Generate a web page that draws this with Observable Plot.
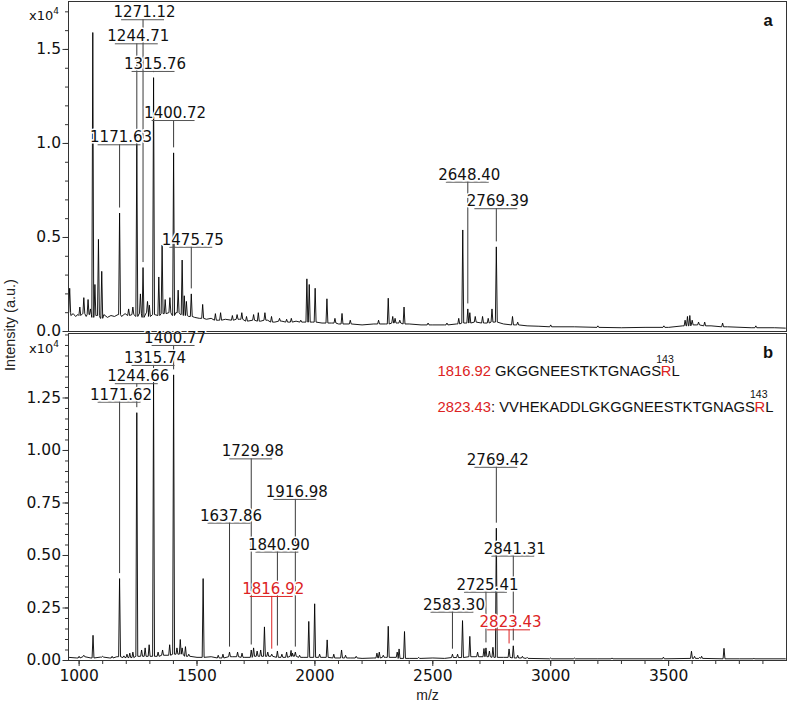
<!DOCTYPE html>
<html><head><meta charset="utf-8">
<script src="https://cdn.jsdelivr.net/npm/d3@7"></script>
<script src="https://cdn.jsdelivr.net/npm/@observablehq/plot@0.6"></script>
<style>
body{margin:0;background:#fff}
#chart{position:relative;width:789px;height:707px;background:#fff}
#chart svg{display:block}
</style>
</head><body><div id="chart"></div>
<script>
// ---------- data ----------
const xDomain = [955, 4000];
const xTicks = [1000, 1500, 2000, 2500, 3000, 3500];
const xMinor = [1000,1100,1200,1300,1400,1500,1600,1700,1800,1900,2000,2100,2200,2300,2400,2500,2600,2700,2800,2900,3000,3100,3200,3300,3400,3500,3600,3700,3800,3900];
const yTicksA = [0, 0.5, 1.0, 1.5];
const yMinorA = [0,0.1,0.2,0.3,0.4,0.5,0.6,0.7,0.8,0.9,1.0,1.1,1.2,1.3,1.4,1.5,1.6,1.7];
const yTicksB = [0, 0.25, 0.5, 0.75, 1.0, 1.25];
const yMinorB = [0,0.05,0.1,0.15,0.2,0.25,0.3,0.35,0.4,0.45,0.5,0.55,0.6,0.65,0.7,0.75,0.8,0.85,0.9,0.95,1.0,1.05,1.1,1.15,1.2,1.25,1.3,1.35,1.4,1.45,1.5,1.55];

// panel a: baseline (m/z, intensity x1e4)
const baseA = [[955,0.10],[965,0.085],[975,0.095],[985,0.08],[995,0.09],[1005,0.085],[1015,0.095],[1030,0.08],[1045,0.09],[1055,0.075],[1075,0.085],[1090,0.07],[1105,0.09],[1120,0.075],[1135,0.085],[1150,0.08],[1165,0.09],[1180,0.08],[1195,0.095],[1210,0.085],[1225,0.09],[1240,0.08],[1255,0.095],[1270,0.075],[1285,0.1],[1300,0.08],[1320,0.09],[1335,0.085],[1360,0.095],[1380,0.1],[1395,0.085],[1410,0.1],[1430,0.09],[1450,0.085],[1465,0.08],[1490,0.075],[1510,0.07],[1540,0.065],[1560,0.07],[1590,0.06],[1620,0.065],[1650,0.06],[1680,0.065],[1710,0.055],[1740,0.06],[1770,0.055],[1800,0.06],[1830,0.05],[1860,0.055],[1890,0.05],[1920,0.055],[1950,0.05],[1990,0.05],[2030,0.045],[2070,0.045],[2100,0.04],[2150,0.04],[2200,0.035],[2250,0.04],[2300,0.04],[2350,0.045],[2400,0.04],[2450,0.035],[2500,0.035],[2550,0.035],[2600,0.04],[2640,0.045],[2680,0.05],[2720,0.045],[2760,0.05],[2800,0.04],[2850,0.035],[2900,0.03],[2950,0.028],[3000,0.025],[3100,0.025],[3200,0.022],[3300,0.02],[3400,0.022],[3500,0.022],[3560,0.03],[3620,0.035],[3680,0.03],[3750,0.025],[3850,0.02],[3950,0.02],[3995,0.018]];
// panel a: peaks (m/z, height x1e4)
const peaksA = [[960,0.23],[1003,0.13],[1020,0.18],[1038,0.17],[1048,0.12],[1058,1.59],[1067,0.25],[1082,0.49],[1096,0.32],[1171.63,0.63],[1210,0.12],[1228,0.13],[1244.71,1.0],[1260,0.2],[1271.12,0.34],[1290,0.16],[1298,0.14],[1315.76,1.35],[1338,0.29],[1352,0.46],[1365,0.17],[1385,0.18],[1400.72,0.95],[1420,0.22],[1437,0.38],[1446,0.19],[1455,0.16],[1475.75,0.2],[1524,0.144],[1578,0.095],[1600,0.1],[1650,0.085],[1670,0.09],[1690,0.1],[1710,0.08],[1740,0.09],[1760,0.1],[1788,0.1],[1816,0.08],[1850,0.07],[1880,0.065],[1900,0.07],[1940,0.06],[1966,0.28],[1976,0.25],[2001,0.23],[2051,0.174],[2085,0.07],[2115,0.096],[2150,0.06],[2270,0.06],[2311,0.177],[2330,0.08],[2340,0.07],[2360,0.06],[2378,0.13],[2480,0.045],[2560,0.045],[2610,0.07],[2627,0.54],[2648.40,0.12],[2657,0.1],[2680,0.08],[2711,0.08],[2735,0.07],[2751,0.12],[2769.39,0.45],[2838,0.08],[2860,0.05],[3000,0.035],[3200,0.03],[3480,0.03],[3570,0.06],[3580,0.08],[3590,0.085],[3600,0.06],[3627,0.05],[3653,0.05],[3729,0.045],[3870,0.03]];
// panel a: labels
const labMzA  = [1271.12, 1244.71, 1315.76, 1400.72, 1171.63, 1475.75, 2648.40, 2769.39];
const labYA   = [1.658, 1.530, 1.383, 1.122, 0.993, 0.448, 0.794, 0.653];
const labTopA = [0.34, 1.0, 1.35, 0.95, 0.63, 0.2, 0.12, 0.45];
const labRedA = [false, false, false, false, false, false, false, false];

// panel b
const baseB = [[955,0.015],[990,0.012],[1020,0.018],[1050,0.012],[1090,0.016],[1130,0.012],[1160,0.018],[1200,0.014],[1260,0.02],[1320,0.02],[1380,0.025],[1420,0.03],[1470,0.02],[1500,0.015],[1560,0.018],[1600,0.012],[1650,0.018],[1700,0.015],[1760,0.02],[1800,0.02],[1860,0.015],[1900,0.02],[1950,0.015],[2030,0.015],[2080,0.012],[2150,0.012],[2200,0.01],[2250,0.012],[2300,0.015],[2400,0.01],[2450,0.01],[2500,0.012],[2550,0.01],[2600,0.014],[2700,0.018],[2800,0.015],[2860,0.012],[2900,0.01],[3000,0.008],[3200,0.008],[3400,0.008],[3600,0.01],[3800,0.008],[3995,0.008]];
const peaksB = [[1000,0.02],[1020,0.025],[1059,0.12],[1100,0.02],[1140,0.02],[1171.62,0.39],[1190,0.022],[1203,0.03],[1215,0.035],[1228,0.04],[1244.66,1.18],[1265,0.05],[1280,0.06],[1297,0.075],[1315.74,1.33],[1335,0.04],[1354,0.05],[1384,0.075],[1400.77,1.36],[1415,0.06],[1429,0.1],[1437,0.06],[1451,0.066],[1465,0.03],[1526,0.39],[1590,0.025],[1610,0.03],[1637.86,0.04],[1672,0.04],[1691,0.035],[1729.98,0.05],[1740,0.06],[1755,0.045],[1770,0.05],[1786,0.16],[1800,0.04],[1816.92,0.03],[1840.90,0.045],[1860,0.03],[1880,0.04],[1899,0.048],[1905,0.035],[1916.98,0.04],[1935,0.025],[1974,0.186],[1999,0.27],[2020,0.03],[2052,0.098],[2080,0.03],[2113,0.05],[2130,0.025],[2175,0.02],[2263,0.035],[2273,0.04],[2290,0.025],[2311,0.163],[2349,0.04],[2357,0.055],[2380,0.138],[2440,0.015],[2583.30,0.03],[2605,0.03],[2626,0.19],[2657,0.115],[2690,0.04],[2717,0.057],[2725.41,0.06],[2740,0.045],[2755,0.063],[2769.42,0.63],[2823.43,0.055],[2841.31,0.07],[2860,0.025],[2880,0.02],[2900,0.015],[3000,0.012],[3100,0.012],[3260,0.012],[3478,0.016],[3597,0.044],[3610,0.02],[3632,0.015],[3640,0.02],[3735,0.058],[3862,0.01]];
const labMzB  = [1400.77, 1315.74, 1244.66, 1171.62, 1729.98, 1916.98, 1637.86, 1840.90, 1816.92, 2769.42, 2841.31, 2725.41, 2583.30, 2823.43];
const labYB   = [1.5, 1.405, 1.318, 1.23, 0.96, 0.767, 0.654, 0.516, 0.305, 0.92, 0.497, 0.325, 0.23, 0.146];
const labTopB = [1.36, 1.33, 1.18, 0.39, 0.05, 0.04, 0.04, 0.045, 0.03, 0.63, 0.07, 0.06, 0.03, 0.055];
const labRedB = [false, false, false, false, false, false, false, false, true, false, false, false, false, true];

// ---------- helpers ----------
const RED = "#dc2323";
const FONT = "DejaVu Sans";
function buildSpectrum(base, peaks) {
  const hw = 4;
  const nearest = m => base.reduce((a, b) => Math.abs(b[0] - m) < Math.abs(a[0] - m) ? b : a)[1];
  const pts = base.filter(([m]) => !peaks.some(([p]) => Math.abs(p - m) < hw + 1)).map(([m, v]) => ({mz: m, v}));
  for (const [p, h] of peaks) {
    const b = nearest(p);
    pts.push({mz: p - hw, v: b}, {mz: p, v: h}, {mz: p + hw, v: b});
  }
  pts.sort((a, b) => a.mz - b.mz);
  return pts;
}
function labelTable(mz, y, top, red) {
  return mz.map((m, i) => ({mz: m, y: y[i], top: top[i], red: red[i], t: m.toFixed(2)}));
}
function labelMarks(labs, gap) {
  const HALF = 91; // underline half-width in m/z units
  const out = [];
  for (const [isRed, col] of [[false, "#3a3a3a"], [true, RED]]) {
    const d = labs.filter(l => l.red === isRed);
    out.push(Plot.ruleX(d, {x: "mz", y1: l => l.top + gap, y2: "y", stroke: col, strokeWidth: 1}));
    out.push(Plot.ruleY(d, {y: "y", x1: l => l.mz - HALF, x2: l => l.mz + HALF, stroke: col === RED ? RED : "#555", strokeWidth: 1}));
  }
  for (const [isRed, col] of [[false, "#111"], [true, RED]]) {
    const d = labs.filter(l => l.red === isRed);
    out.push(Plot.text(d, {x: "mz", y: "y", text: "t", lineAnchor: "bottom", dy: -2.5, dx: 1.5,
      fontSize: 15, fontFamily: FONT, fill: col, stroke: "white", strokeWidth: 3}));
  }
  return out;
}
function addTimes(svg, y) {
  const t = d3.select(svg).append("text").attr("x", 59).attr("y", y).attr("text-anchor", "end")
    .attr("font-family", FONT).attr("font-size", 13).attr("fill", "#111");
  t.append("tspan").text("x10");
  t.append("tspan").attr("font-size", 9).attr("dy", -6).text("4");
}
function addPanelLetter(svg, letter, y) {
  d3.select(svg).append("text").attr("x", 768).attr("y", y).attr("text-anchor", "middle")
    .attr("font-family", "Liberation Sans").attr("font-weight", "bold").attr("font-size", 16.5).text(letter);
}

const specA = buildSpectrum(baseA, peaksA);
const specB = buildSpectrum(baseB, peaksB);
const labsA = labelTable(labMzA, labYA, labTopA, labRedA);
const labsB = labelTable(labMzB, labYB, labTopB, labRedB);

const svgStyle = {fontFamily: FONT, fontSize: "15.5px", background: "white", overflow: "visible", color: "#111"};

// ---------- panel a ----------
const plotA = Plot.plot({
  width: 789, height: 333, marginLeft: 68, marginRight: 3, marginTop: 1, marginBottom: 2,
  style: svgStyle,
  x: {domain: xDomain, axis: null, label: null},
  y: {domain: [0, 1.755], label: null},
  marks: [
    Plot.axisY(yMinorA, {tickSize: 3, tickFormat: () => "", label: null, stroke: "#333"}),
    Plot.axisY(yTicksA, {tickSize: 5.5, tickPadding: 2, tickFormat: d => d.toFixed(1), label: null, fill: "#111", stroke: "#333"}),
    Plot.line(specA, {x: "mz", y: "v", stroke: "#000", strokeWidth: 0.9}),
    ...labelMarks(labsA, 5 / 188),
    Plot.frame({stroke: "#333"})
  ]
});

// ---------- panel b ----------
const plotB = Plot.plot({
  width: 789, height: 374, marginLeft: 68, marginRight: 3, marginTop: 0, marginBottom: 47,
  style: svgStyle,
  x: {domain: xDomain, label: null},
  y: {domain: [0, 1.557], label: null},
  marks: [
    Plot.axisY(yMinorB, {tickSize: 3, tickFormat: () => "", label: null, stroke: "#333"}),
    Plot.axisY(yTicksB, {tickSize: 5.5, tickPadding: 2, tickFormat: d => d.toFixed(2), label: null, fill: "#111", stroke: "#333"}),
    Plot.axisX(xMinor, {tickSize: 4, tickFormat: () => "", label: null, stroke: "#333"}),
    Plot.axisX(xTicks, {tickSize: 6, tickPadding: 3, tickFormat: d => String(d), label: null, fill: "#111", stroke: "#333"}),
    Plot.line(specB, {x: "mz", y: "v", stroke: "#000", strokeWidth: 0.9}),
    ...labelMarks(labsB, 5 / 210),
    Plot.text(["m/z"], {frameAnchor: "bottom", dy: 39, text: d => d, fontSize: 14, fontFamily: "Liberation Sans", fill: "#222"}),
    Plot.frame({stroke: "#333"})
  ]
});

const chart = document.getElementById("chart");
chart.appendChild(plotA);
chart.appendChild(plotB);

addTimes(plotA, 20);
addTimes(plotB, 20);
addPanelLetter(plotA, "a", 26);
addPanelLetter(plotB, "b", 25);

// sequence annotations in panel b
function seqLine(svg, y, parts) {
  const t = d3.select(svg).append("text").attr("x", 437.5).attr("y", y).attr("text-anchor", "start")
    .attr("font-family", "Liberation Sans").attr("font-size", 14.8).attr("fill", "#111");
  for (const p of parts) {
    const s = t.append("tspan").text(p.t);
    if (p.fill) s.attr("fill", p.fill);
    if (p.size) s.attr("font-size", p.size);
    if (p.dx != null) s.attr("dx", p.dx);
    if (p.dy != null) s.attr("dy", p.dy);
  }
}
seqLine(plotB, 43, [
  {t: "1816.92", fill: RED}, {t: " GKGGNEESTKTGNAGS"},
  {t: "143", size: 10.5, dx: -5, dy: -13.5}, {t: "R", fill: RED, dx: -13, dy: 13.5}, {t: "L"}
]);
seqLine(plotB, 78.7, [
  {t: "2823.43", fill: RED}, {t: ": VVHEKADDLGKGGNEESTKTGNAGS"},
  {t: "143", size: 10.5, dx: -5, dy: -14}, {t: "R", fill: RED, dx: -13, dy: 14}, {t: "L"}
]);

// shared y-axis title
const ov = d3.select(chart).append("svg").attr("width", 789).attr("height", 707)
  .style("position", "absolute").style("left", "0px").style("top", "0px").style("pointer-events", "none");
ov.append("text").attr("transform", "translate(14.5,325) rotate(-90)").attr("text-anchor", "middle")
  .attr("font-family", "Liberation Sans").attr("font-size", 14.5).attr("fill", "#222").text("Intensity (a.u.)");
</script>
</body></html>
